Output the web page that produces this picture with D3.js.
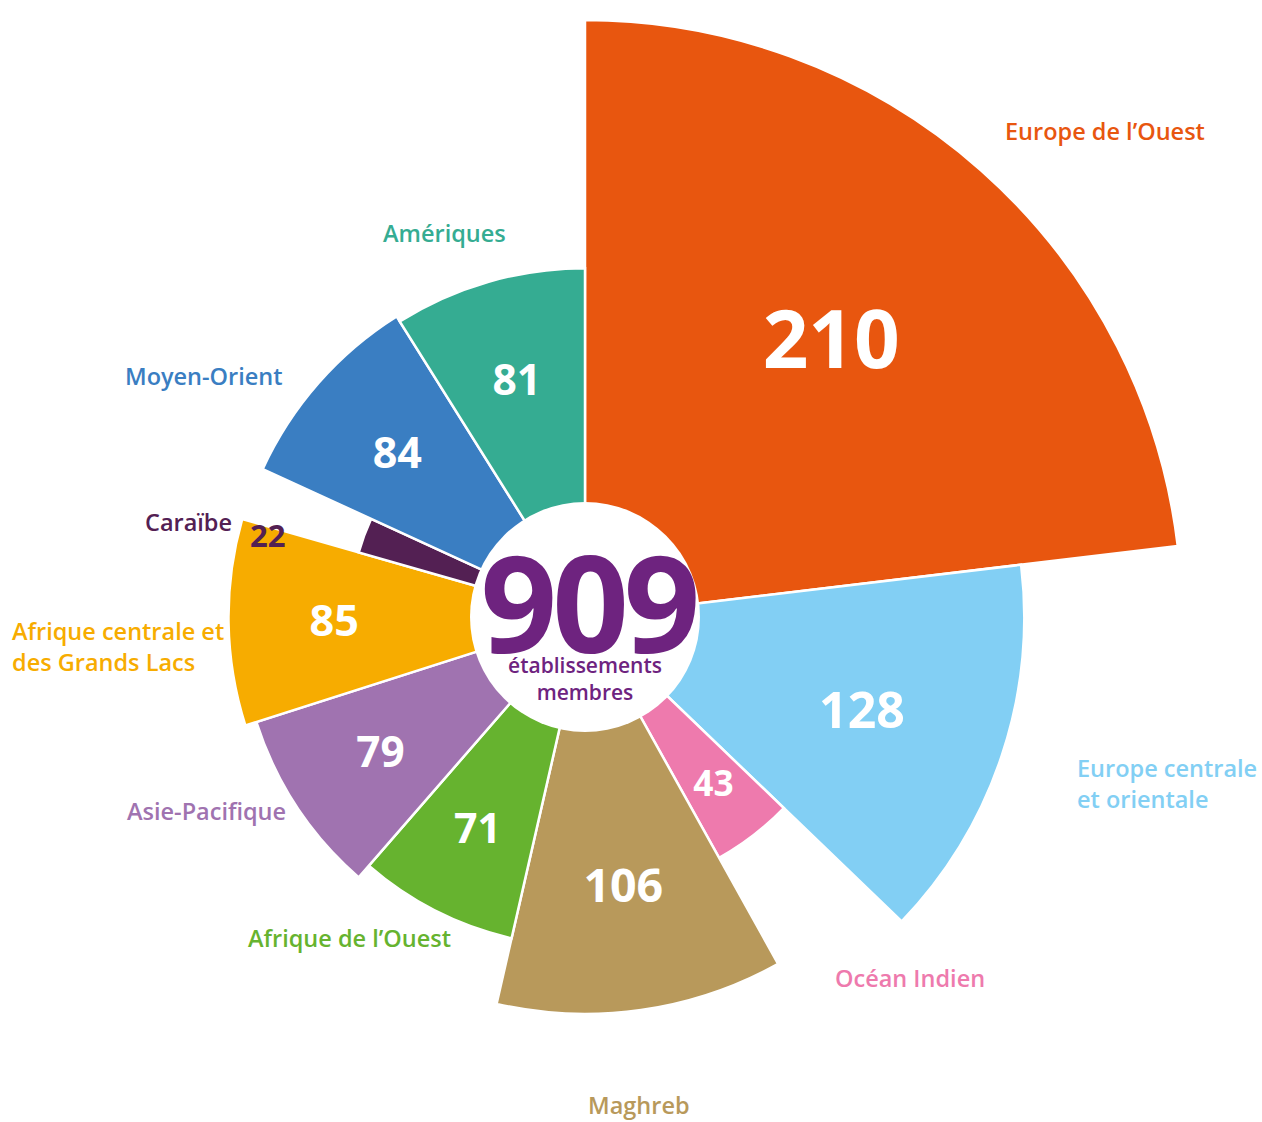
<!DOCTYPE html>
<html>
<head>
<meta charset="utf-8">
<script src="https://cdn.jsdelivr.net/npm/d3@7"></script>
<style>
  body { margin: 0; background: #fff; }
  svg { display: block; font-family: "Open Sans", "Noto Sans", sans-serif; }
</style>
</head>
<body>
<div id="chart"></div>
<script>
// Membres par région (sens horaire depuis midi)
const categories = [
  'Europe de l’Ouest', 'Europe centrale et orientale', 'Océan Indien', 'Maghreb',
  'Afrique de l’Ouest', 'Asie-Pacifique', 'Afrique centrale et des Grands Lacs',
  'Caraïbe', 'Moyen-Orient', 'Amériques'
];
const values = [210, 128, 43, 106, 71, 79, 85, 22, 84, 81];
const labelLines = [
  ['Europe de l’Ouest'], ['Europe centrale', 'et orientale'], ['Océan Indien'], ['Maghreb'],
  ['Afrique de l’Ouest'], ['Asie-Pacifique'], ['Afrique centrale et', 'des Grands Lacs'],
  ['Caraïbe'], ['Moyen-Orient'], ['Amériques']
];
const total = d3.sum(values);

// styles
const colors = ['#e8560f', '#82cff4', '#ee7aad', '#b8995b', '#66b32f',
                '#a073b0', '#f7ac00', '#532053', '#3a7ec2', '#35ac92'];
const labelColors = colors.slice();
const centerColor = '#6e237f';

// layout (label anchors, start-anchored text, first baseline)
const labelLayout = [
  { x: 1005, y: 140 }, { x: 1077, y: 777 }, { x: 835, y: 987 }, { x: 588, y: 1114 },
  { x: 248, y: 947 }, { x: 127, y: 820 }, { x: 12, y: 640 },
  { x: 145, y: 531 }, { x: 125, y: 385 }, { x: 383, y: 242 }
];

const W = 1262, H = 1122;
const cx = 585, cy = 617;
const innerR = 115;

const svg = d3.select('#chart').append('svg')
  .attr('width', W).attr('height', H);
const g = svg.append('g').attr('transform', `translate(${cx},${cy})`);

const rScale = d3.scaleLinear()
  .domain([0, d3.max(values)])
  .range([193, 597]);

const fontScale = d3.scaleLinear()
  .domain([22, 71, 128, 210])
  .range([31, 41, 50, 80]);

const pie = d3.pie().sort(null).value(d => d.value);
const data = categories.map((c, i) => ({ name: c, value: values[i], i }));
const arcs = pie(data);

const arc = d3.arc()
  .innerRadius(0)
  .outerRadius(d => rScale(d.data.value));

g.selectAll('.slice')
  .data(arcs)
  .enter().append('path')
  .attr('class', 'slice')
  .attr('d', arc)
  .attr('fill', d => colors[d.data.i])
  .attr('stroke', '#fff')
  .attr('stroke-width', 2.5)
  .attr('stroke-linejoin', 'miter');

// white hub
g.append('circle').attr('r', innerR).attr('fill', '#fff');

// value labels inside the slices
g.selectAll('.val')
  .data(arcs.filter(d => d.data.value >= 30))
  .enter().append('text')
  .attr('class', 'val')
  .attr('transform', d => {
    const a = (d.startAngle + d.endAngle) / 2;
    const r = (innerR + rScale(d.data.value)) / 2 + 15;
    return `translate(${r * Math.sin(a)},${-r * Math.cos(a)})`;
  })
  .attr('text-anchor', 'middle')
  .attr('dy', '0.36em')
  .style('font-size', d => fontScale(d.data.value) + 'px')
  .style('font-weight', 700)
  .style('fill', '#fff')
  .text(d => d.data.value);

// category labels
labelLines.forEach((lines, i) => {
  const t = svg.append('text')
    .attr('x', labelLayout[i].x)
    .attr('y', labelLayout[i].y)
    .style('font-size', '23.5px')
    .style('font-weight', 600)
    .style('fill', labelColors[i]);
  lines.forEach((line, j) => {
    t.append('tspan')
      .attr('x', labelLayout[i].x)
      .attr('dy', j === 0 ? 0 : 31)
      .text(line);
  });
});

// small slice value shown beside its label
arcs.filter(d => d.data.value < 30).forEach(d => {
  const lp = labelLayout[d.data.i];
  svg.append('text')
    .attr('x', lp.x + 105)
    .attr('y', lp.y + 16)
    .style('font-size', fontScale(d.data.value) + 'px')
    .style('font-weight', 700)
    .style('fill', colors[d.data.i])
    .text(d.data.value);
});

// center total
g.append('text')
  .attr('text-anchor', 'middle')
  .attr('x', 3)
  .attr('y', 36)
  .style('font-size', '134px')
  .style('font-weight', 700)
  .style('letter-spacing', '-5px')
  .style('fill', centerColor)
  .text(total);

g.append('text')
  .attr('text-anchor', 'middle')
  .attr('y', 56)
  .style('font-size', '21px')
  .style('font-weight', 600)
  .style('fill', centerColor)
  .text('établissements');

g.append('text')
  .attr('text-anchor', 'middle')
  .attr('y', 83)
  .style('font-size', '21px')
  .style('font-weight', 600)
  .style('fill', centerColor)
  .text('membres');
</script>
</body>
</html>
